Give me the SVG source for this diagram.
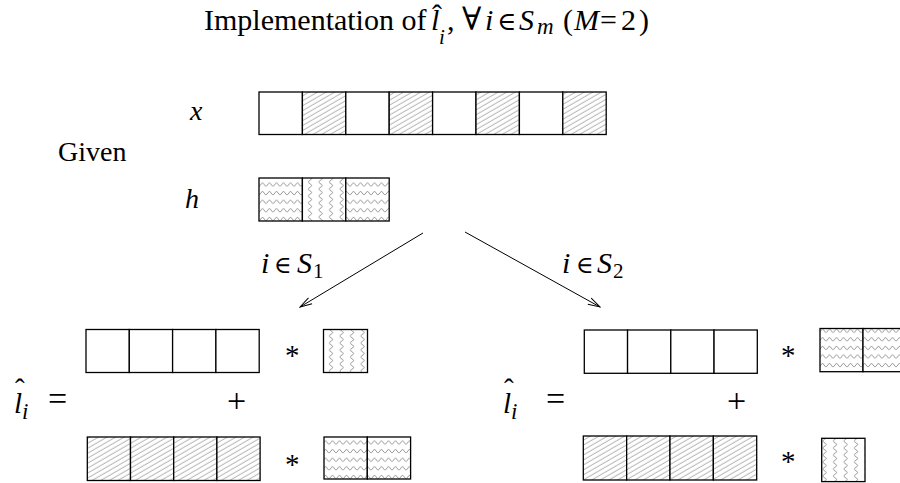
<svg xmlns="http://www.w3.org/2000/svg" width="900" height="483" viewBox="0 0 900 483">
<style>
text{font-family:"Liberation Serif","DejaVu Serif",serif;fill:#000}
.it{font-style:italic}
.cell{stroke:#000;stroke-width:1.3;fill:#fff}
.d{fill:url(#diag)}
.hz{fill:url(#hz)}
.vz{fill:url(#vz)}
.conn{stroke:#000;stroke-width:1;fill:none;marker-end:url(#arr)}
</style>
<defs>
<pattern id="diag" patternUnits="userSpaceOnUse" width="10" height="4.3" patternTransform="rotate(-30)">
<rect width="10" height="4.3" fill="#fff"/>
<line x1="0" y1="2" x2="10" y2="2" stroke="#8c8c8c" stroke-width="0.7"/>
</pattern>
<pattern id="hz" patternUnits="userSpaceOnUse" width="7" height="8.6">
<rect width="7" height="8.6" fill="#fff"/>
<path d="M0,6 L3.5,2 L7,6" fill="none" stroke="#808080" stroke-width="0.8"/>
</pattern>
<pattern id="vz" patternUnits="userSpaceOnUse" width="10.5" height="7">
<rect width="10.5" height="7" fill="#fff"/>
<path d="M3.5,0 L7.5,3.5 L3.5,7" fill="none" stroke="#808080" stroke-width="0.8"/>
</pattern>
<marker id="arr" markerUnits="userSpaceOnUse" markerWidth="14" markerHeight="10" viewBox="0 0 14 10" refX="13" refY="5" orient="auto">
<path d="M1,1.5 L13,5 L1,8.5" fill="none" stroke="#000" stroke-width="1"/>
</marker>
</defs>

<g id="title">
<text font-size="30" y="29.5"><tspan x="204">Implementation of</tspan><tspan class="it" x="431" y="29.5">l</tspan><tspan x="432" y="25">ˆ</tspan><tspan class="it" x="439" y="44" font-size="21">i</tspan><tspan x="447" y="29.5">,</tspan><tspan x="462" y="29.5" font-size="32">∀</tspan><tspan class="it" x="485" y="29.5">i</tspan><tspan x="497" y="29.5" font-size="26">∈</tspan><tspan class="it" x="519" y="29.5">S</tspan><tspan class="it" x="537" y="33.5" font-size="23">m</tspan><tspan x="563" y="29.5">(</tspan><tspan class="it" x="574" y="29.5">M</tspan><tspan x="600" y="29.5">=</tspan><tspan x="621" y="29.5">2</tspan><tspan x="639" y="29.5">)</tspan></text>
</g>

<g id="given">
<text x="58" y="160.7" font-size="28">Given</text>
</g>

<g id="x-array">
<text class="it" x="190" y="120" font-size="28">x</text>
<rect class="cell" x="259" y="92" width="43.4" height="42.5"/>
<rect class="cell d" x="302.4" y="92" width="43.4" height="42.5"/>
<rect class="cell" x="345.8" y="92" width="43.4" height="42.5"/>
<rect class="cell d" x="389.2" y="92" width="43.4" height="42.5"/>
<rect class="cell" x="432.6" y="92" width="43.4" height="42.5"/>
<rect class="cell d" x="476" y="92" width="43.4" height="42.5"/>
<rect class="cell" x="519.4" y="92" width="43.4" height="42.5"/>
<rect class="cell d" x="562.8" y="92" width="43.4" height="42.5"/>
</g>

<g id="h-array">
<text class="it" x="185" y="208" font-size="28">h</text>
<rect class="cell hz" x="259" y="178" width="43.4" height="43"/>
<rect class="cell vz" x="302.4" y="178" width="43.4" height="43"/>
<rect class="cell hz" x="345.8" y="178" width="43.4" height="43"/>
</g>

<g id="connectors">
<line class="conn" x1="423" y1="233" x2="300" y2="307"/>
<line class="conn" x1="465" y1="232" x2="600" y2="307"/>
</g>

<g id="label-s1">
<text font-size="30" y="273"><tspan class="it" x="261">i</tspan><tspan x="274" font-size="24">∈</tspan><tspan class="it" x="297">S</tspan><tspan x="313" y="278" font-size="21">1</tspan></text>
</g>

<g id="label-s2">
<text font-size="30" y="273"><tspan class="it" x="562">i</tspan><tspan x="576" font-size="24">∈</tspan><tspan class="it" x="597">S</tspan><tspan x="613" y="278" font-size="21">2</tspan></text>
</g>

<g id="expr-s1">
<text font-size="29" y="413"><tspan class="it" x="14">l</tspan><tspan x="15" y="399">ˆ</tspan><tspan class="it" x="22" y="419" font-size="23">i</tspan></text>
<text x="48" y="410" font-size="34">=</text>
<text x="227" y="411.5" font-size="34">+</text>
<text x="285" y="365" font-size="29">*</text>
<text x="285" y="474" font-size="29">*</text>
<rect class="cell" x="86" y="329.5" width="43.3" height="43"/>
<rect class="cell" x="129.3" y="329.5" width="43.3" height="43"/>
<rect class="cell" x="172.6" y="329.5" width="43.3" height="43"/>
<rect class="cell" x="215.9" y="329.5" width="43.3" height="43"/>
<rect class="cell vz" x="323.5" y="329.5" width="44" height="43"/>
<rect class="cell d" x="87.3" y="437" width="43.2" height="43.5"/>
<rect class="cell d" x="130.5" y="437" width="43.2" height="43.5"/>
<rect class="cell d" x="173.7" y="437" width="43.2" height="43.5"/>
<rect class="cell d" x="216.9" y="437" width="43.2" height="43.5"/>
<rect class="cell hz" x="324" y="437" width="43.3" height="42"/>
<rect class="cell hz" x="367.3" y="437" width="43.3" height="42"/>
</g>

<g id="expr-s2">
<text font-size="29" y="413"><tspan class="it" x="503">l</tspan><tspan x="504" y="399">ˆ</tspan><tspan class="it" x="511" y="419" font-size="23">i</tspan></text>
<text x="546" y="410" font-size="34">=</text>
<text x="727" y="411.5" font-size="34">+</text>
<text x="781" y="365" font-size="29">*</text>
<text x="781" y="471" font-size="29">*</text>
<rect class="cell" x="584.3" y="330" width="43.25" height="43.3"/>
<rect class="cell" x="627.55" y="330" width="43.25" height="43.3"/>
<rect class="cell" x="670.8" y="330" width="43.25" height="43.3"/>
<rect class="cell" x="714.05" y="330" width="43.25" height="43.3"/>
<rect class="cell hz" x="820" y="328.5" width="43" height="43.2"/>
<rect class="cell hz" x="863" y="328.5" width="43" height="43.2"/>
<rect class="cell d" x="583.3" y="436" width="43.35" height="44"/>
<rect class="cell d" x="626.65" y="436" width="43.35" height="44"/>
<rect class="cell d" x="670" y="436" width="43.35" height="44"/>
<rect class="cell d" x="713.35" y="436" width="43.35" height="44"/>
<rect class="cell vz" x="821.7" y="438.3" width="43.3" height="43.3"/>
</g>
</svg>
